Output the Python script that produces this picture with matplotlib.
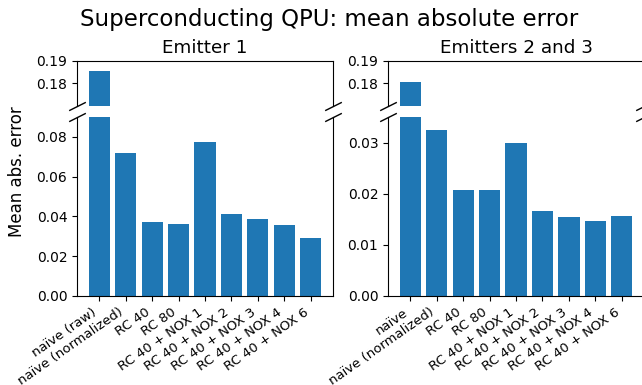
import matplotlib
matplotlib.use("Agg")
import matplotlib.pyplot as plt

labels_e1 = ["naïve (raw)", "naïve (normalized)", "RC 40", "RC 80",
             "RC 40 + NOX 1", "RC 40 + NOX 2", "RC 40 + NOX 3",
             "RC 40 + NOX 4", "RC 40 + NOX 6"]
labels_e23 = ["naïve", "naïve (normalized)", "RC 40", "RC 80",
              "RC 40 + NOX 1", "RC 40 + NOX 2", "RC 40 + NOX 3",
              "RC 40 + NOX 4", "RC 40 + NOX 6"]
mae_e1 = [0.1855, 0.0719, 0.0372, 0.0362, 0.0774, 0.0412, 0.0387, 0.0357, 0.0291]
mae_e23 = [0.1805, 0.0324, 0.0207, 0.0207, 0.0299, 0.0166, 0.0154, 0.0146, 0.0156]

panels = [
    ("Emitter 1", labels_e1, mae_e1, 0.09, [0.0, 0.02, 0.04, 0.06, 0.08]),
    ("Emitters 2 and 3", labels_e23, mae_e23, 0.035, [0.0, 0.01, 0.02, 0.03]),
]

fig = plt.figure(figsize=(6.42, 3.85), dpi=100)

lefts = [0.1199, 0.6044]
width = 0.3988
top_rect = (0.7247, 0.8416 - 0.7247)
bot_rect = (0.2312, 0.6961 - 0.2312)

for left, (title, labels, vals, ymax, yticks) in zip(lefts, panels):
    ax_top = fig.add_axes([left, top_rect[0], width, top_rect[1]])
    ax_bot = fig.add_axes([left, bot_rect[0], width, bot_rect[1]], sharex=ax_top)
    x = list(range(len(vals)))
    ax_top.bar(x, vals, color="C0")
    ax_bot.bar(x, vals, color="C0")

    ax_top.set_ylim(0.17, 0.19)
    ax_top.set_yticks([0.18, 0.19])
    ax_bot.set_ylim(0, ymax)
    ax_bot.set_yticks(yticks)

    ax_top.spines["bottom"].set_visible(False)
    ax_bot.spines["top"].set_visible(False)
    ax_top.tick_params(axis="x", bottom=False, labelbottom=False)
    ax_bot.set_xticks(x)
    ax_bot.set_xticklabels(labels, rotation=35, ha="right", fontsize=9.5)

    ax_top.set_title(title, fontsize=13.2)

    # diagonal break marks
    d = 0.5
    kw = dict(marker=[(-1, -d), (1, d)], markersize=12, linestyle="none",
              color="k", mec="k", mew=1, clip_on=False)
    ax_top.plot([0, 1], [0, 0], transform=ax_top.transAxes, **kw)
    ax_bot.plot([0, 1], [1, 1], transform=ax_bot.transAxes, **kw)

fig.text(0.026, 0.553, "Mean abs. error", rotation=90, fontsize=12,
         ha="center", va="center")
fig.suptitle("Superconducting QPU: mean absolute error", fontsize=16.5,
             x=0.512, y=0.978)

fig.savefig("out.png", dpi=100)
